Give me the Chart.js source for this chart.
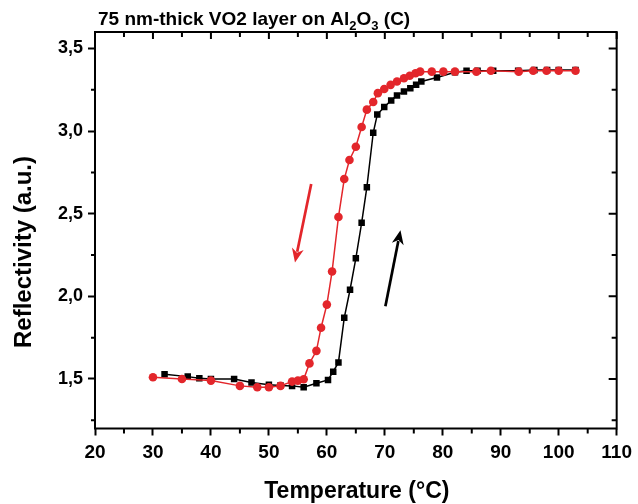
<!DOCTYPE html>
<html>
<head>
<meta charset="utf-8">
<script src="https://cdn.jsdelivr.net/npm/chart.js@4"></script>
<style>
  html, body { margin: 0; padding: 0; background: #fff; }
  #wrap { width: 638px; height: 504px; }
</style>
</head>
<body>
<div id="wrap"><canvas id="chart" width="638" height="504"></canvas></div>
<script>
// --- DATA ---
// cooling branch (red circles)
const coolT = [30, 35, 40, 45, 48, 50, 52, 54, 55, 56, 57, 58.2, 59, 60, 60.9, 62, 63, 63.9, 65, 66,
  66.9, 68, 68.8, 69.9, 71, 72.1, 73.3, 74.3, 75.3, 76.1, 78.1, 80.1, 82.1, 85.8, 88.3, 93.1, 95.6, 97.9, 100, 102.9];
const coolR = [1.51, 1.50, 1.49, 1.458, 1.45, 1.45, 1.458, 1.484, 1.49, 1.498, 1.594, 1.67, 1.81, 1.95, 2.15, 2.48, 2.71, 2.825, 2.905, 3.025,
  3.13, 3.176, 3.23, 3.255, 3.28, 3.30, 3.32, 3.335, 3.35, 3.36, 3.36, 3.36, 3.36, 3.36, 3.365, 3.36, 3.365, 3.365, 3.365, 3.365];

// heating branch (black squares)
const heatT = [32, 36, 38, 40, 44, 47, 50, 52, 54, 56, 58.2, 60.2, 61.1, 62, 63, 64, 65, 66, 66.9, 68,
  68.7, 69.9, 71.1, 72.1, 73.3, 74.4, 75.4, 76.3, 79, 82.1, 84.1, 86, 88.7, 93, 95.8, 98, 100, 102.9];
const heatR = [1.528, 1.514, 1.504, 1.50, 1.50, 1.478, 1.465, 1.46, 1.458, 1.45, 1.474, 1.494, 1.544, 1.60, 1.87, 2.04, 2.23, 2.445, 2.66, 2.99,
  3.10, 3.146, 3.186, 3.216, 3.24, 3.26, 3.28, 3.30, 3.325, 3.356, 3.365, 3.365, 3.365, 3.365, 3.37, 3.37, 3.37, 3.37];

// axis ticks
const xTicks = [20, 30, 40, 50, 60, 70, 80, 90, 100, 110];
const xMinor = [25, 35, 45, 55, 65, 75, 85, 95, 105];
const yTicks = [1.5, 2.0, 2.5, 3.0, 3.5];
const yMinor = [1.25, 1.75, 2.25, 2.75, 3.25];

// arrows (data units: [from, to])
const redArrow = [[57.3, 2.68], [54.5, 2.205]];
const blackArrow = [[70.1, 1.94], [72.7, 2.40]];

const RED = '#e3262b';
const FONT = "'Liberation Sans', Arial, sans-serif";

function pts(xs, ys) {
    return xs.map((t, i) => ({ x: t, y: ys[i] }));
}

// --- extra decorations: frame, minor / mirrored ticks, arrows, titles ---
const decor = {
    id: 'decor',
    afterDraw(chart) {
        const { ctx, chartArea: a, scales: { x, y } } = chart;
        ctx.save();
        ctx.strokeStyle = '#000';
        ctx.lineWidth = 2;
        ctx.strokeRect(a.left, a.top, a.right - a.left, a.bottom - a.top);

        ctx.beginPath();
        // x minor: outward at bottom, inward at top
        xMinor.forEach(v => {
            const px = x.getPixelForValue(v);
            ctx.moveTo(px, a.bottom); ctx.lineTo(px, a.bottom + 5);
            ctx.moveTo(px, a.top); ctx.lineTo(px, a.top + 5);
        });
        xTicks.forEach(v => {
            const px = x.getPixelForValue(v);
            ctx.moveTo(px, a.top); ctx.lineTo(px, a.top + 7);
        });
        // y minor: outward at left, inward at right
        yMinor.forEach(v => {
            const py = y.getPixelForValue(v);
            ctx.moveTo(a.left, py); ctx.lineTo(a.left - 4, py);
            ctx.moveTo(a.right, py); ctx.lineTo(a.right - 5, py);
        });
        yTicks.forEach(v => {
            const py = y.getPixelForValue(v);
            ctx.moveTo(a.right, py); ctx.lineTo(a.right - 8, py);
        });
        ctx.stroke();

        // arrows
        function arrow(seg, color) {
            const x0 = x.getPixelForValue(seg[0][0]), y0 = y.getPixelForValue(seg[0][1]);
            const x1 = x.getPixelForValue(seg[1][0]), y1 = y.getPixelForValue(seg[1][1]);
            const ang = Math.atan2(y1 - y0, x1 - x0);
            const hl = 14, hw = 6;
            const bx = x1 - hl * Math.cos(ang), by = y1 - hl * Math.sin(ang);
            ctx.strokeStyle = color;
            ctx.fillStyle = color;
            ctx.lineWidth = 2.7;
            ctx.beginPath();
            ctx.moveTo(x0, y0); ctx.lineTo(bx + 3 * Math.cos(ang), by + 3 * Math.sin(ang));
            ctx.stroke();
            ctx.beginPath();
            ctx.moveTo(x1, y1);
            ctx.lineTo(bx + hw * Math.sin(ang), by - hw * Math.cos(ang));
            ctx.lineTo(bx + 4 * Math.cos(ang), by + 4 * Math.sin(ang));
            ctx.lineTo(bx - hw * Math.sin(ang), by + hw * Math.cos(ang));
            ctx.closePath();
            ctx.fill();
        }
        arrow(redArrow, RED);
        arrow(blackArrow, '#000');

        // axis titles
        ctx.fillStyle = '#000';
        ctx.font = 'bold 23px ' + FONT;
        ctx.textAlign = 'center';
        ctx.textBaseline = 'middle';
        ctx.fillText('Temperature (°C)', (a.left + a.right) / 2 + 1, 492);

        ctx.save();
        ctx.translate(24, 252);
        ctx.rotate(-Math.PI / 2);
        ctx.font = 'bold 24px ' + FONT;
        ctx.fillText('Reflectivity (a.u.)', 0, 0);
        ctx.restore();

        // chart title with subscripts
        ctx.textAlign = 'left';
        ctx.textBaseline = 'alphabetic';
        let cx = 98;
        const base = 25;
        const parts = [
            ['75 nm-thick VO2 layer on Al', 19, 0],
            ['2', 13, 5],
            ['O', 19, 0],
            ['3', 13, 5],
            [' (C)', 19, 0]
        ];
        parts.forEach(([txt, size, dy]) => {
            ctx.font = 'bold ' + size + 'px ' + FONT;
            ctx.fillText(txt, cx, base + dy);
            cx += ctx.measureText(txt).width;
        });
        ctx.restore();
    }
};

new Chart(document.getElementById('chart'), {
    type: 'line',
    data: {
        datasets: [
            {
                label: 'cooling',
                data: pts(coolT, coolR),
                borderColor: RED,
                backgroundColor: RED,
                borderWidth: 1.5,
                pointStyle: 'circle',
                pointRadius: 4.3,
                pointBorderWidth: 0,
                tension: 0
            },
            {
                label: 'heating',
                data: pts(heatT, heatR),
                borderColor: '#000',
                backgroundColor: '#000',
                borderWidth: 1.5,
                pointStyle: 'rect',
                pointRadius: 4.6,
                pointBorderWidth: 0,
                tension: 0
            }
        ]
    },
    options: {
        responsive: false,
        animation: false,
        layout: { padding: { top: 32, right: 16, left: 0, bottom: 0 } },
        plugins: { legend: { display: false }, tooltip: { enabled: false }, title: { display: false } },
        scales: {
            x: {
                type: 'linear',
                min: 20,
                max: 110,
                afterBuildTicks: s => { s.ticks = xTicks.map(v => ({ value: v })); },
                afterFit: s => { s.height = 75.5; },
                ticks: {
                    color: '#000',
                    font: { family: FONT, size: 19, weight: 'bold' },
                    padding: 6,
                    maxRotation: 0,
                    autoSkip: false
                },
                grid: { drawOnChartArea: false, tickLength: 7, tickWidth: 2, tickColor: '#000' },
                border: { display: false }
            },
            y: {
                type: 'linear',
                min: 1.2,
                max: 3.6,
                afterBuildTicks: s => { s.ticks = yTicks.map(v => ({ value: v })); },
                afterFit: s => { s.width = 95; },
                ticks: {
                    color: '#000',
                    font: { family: FONT, size: 18, weight: 'bold' },
                    padding: 5,
                    autoSkip: false,
                    callback: v => v.toFixed(1).replace('.', ',')
                },
                grid: { drawOnChartArea: false, tickLength: 7, tickWidth: 2, tickColor: '#000' },
                border: { display: false }
            }
        }
    },
    plugins: [decor]
});
</script>
</body>
</html>
